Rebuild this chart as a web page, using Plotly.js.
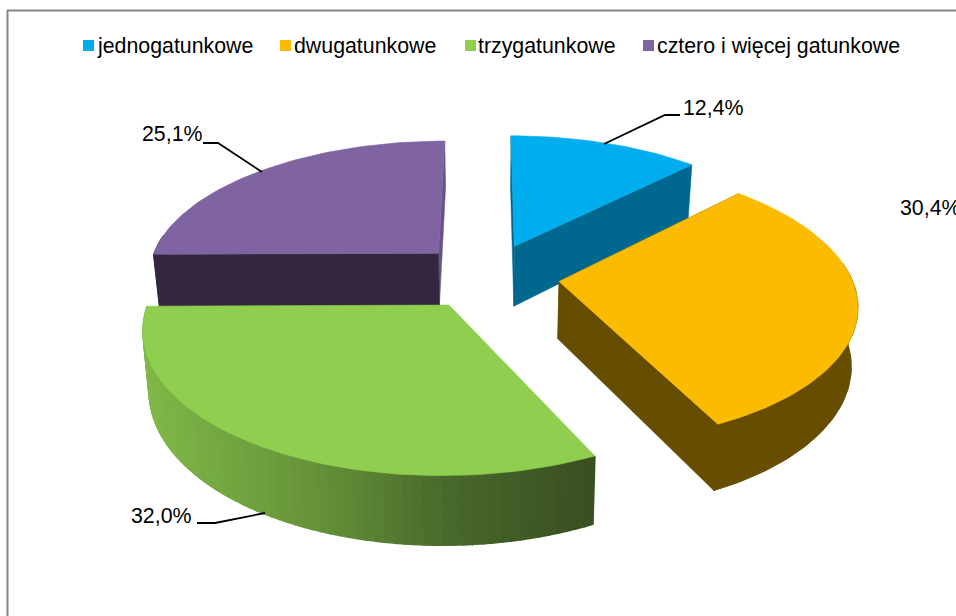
<!DOCTYPE html>
<html><head><meta charset="utf-8">
<script src="https://cdn.plot.ly/plotly-3.0.1.min.js"></script>
<style>html,body{margin:0;padding:0;background:#fff;overflow:hidden}</style>
</head><body><div id="chart" style="width:956px;height:616px"></div>
<script>
const categories = ["jednogatunkowe","dwugatunkowe","trzygatunkowe","cztero i więcej gatunkowe"];
const values = [12.4,30.4,32.0,25.1];
const topColors = ["#00ADEF","#FBBC00","#8FCE4F","#8064A2"];
const wallColors = ["#00688F","#664D00","#5f8a36","#33263F"];
const endWallColors = ["#00688F","#664D00","#5f8a36","#6A5288"];
const wallDepths = [62,57,57,55];
const legendMarkX = [88.5,285.5,470.5,648.5];
const legendTextX = [95.5,293,477,656];
const labelX = [682,899,130,140.5];
const labelY = [108,207.5,516,134];
const leaders = [[[604,665,680],[144,115,115]],[[],[]],[[197,215,265],[523,523,513]],[[203,218,262],[143,143,172]]];

/* projection of the tilted disc */
const cx=488, cy=276, R=292, Rv=135.3, k=0.15, shrink=0.982, pull=0.245;
const project=(u,v,D)=>{const s=1/(1+k*v);
  const x=cx+R*u*s, y=cy-Rv*v*s;
  return D?[cx+(x-cx)*shrink, y+D*s]:[x,y];};
const total=values.reduce((a,b)=>a+b,0);
let acc=0;
const slices=values.map(val=>{const a0=acc/total*2*Math.PI; acc+=val; const a1=acc/total*2*Math.PI;
  const mid=(a0+a1)/2; return {a0,a1,ou:pull*Math.sin(mid),ov:pull*Math.cos(mid)};});
const angles=(sl,mult)=>{const n=Math.max(8,Math.round((sl.a1-sl.a0)*mult));const p=[];
  for(let i=0;i<=n;i++) p.push(sl.a0+(sl.a1-sl.a0)*i/n);
  return p;};
const at=(sl,a,D)=>project(sl.ou+Math.sin(a),sl.ov+Math.cos(a),D);
const poly=(pts,color,width)=>({x:[...pts.map(p=>p[0]),pts[0][0]],y:[...pts.map(p=>p[1]),pts[0][1]],
  mode:width?'lines':'none',fill:'toself',fillcolor:color,line:{color:color,width:width||0},hoverinfo:'skip',showlegend:false,type:'scatter'});
const greenAt=x=>{const stops=[[146,[128,184,72]],[320,[101,145,56]],[450,[72,104,44]],[594,[57,79,32]]];
  for(let i=1;i<stops.length;i++){if(x<=stops[i][0]){const t=Math.max(0,(x-stops[i-1][0])/(stops[i][0]-stops[i-1][0]));
    const c=stops[i-1][1].map((c0,j)=>Math.round(c0+(stops[i][1][j]-c0)*t));return `rgb(${c.join(',')})`;}}
  return 'rgb(57,79,32)';};

const traces=[];
[3,0,1,2].forEach(i=>{const sl=slices[i], D=wallDepths[i];
  const as=angles(sl,i===2?36:40);
  const top=as.map(a=>at(sl,a,0)), bot=as.map(a=>at(sl,a,D));
  const apT=project(sl.ou,sl.ov,0), apB=project(sl.ou,sl.ov,D);
  const last=top.length-1;
  if(i===2){
    for(let j=last-1;j>=0;j--)
      traces.push(poly([top[j],top[j+1],bot[j+1],bot[j]],greenAt((top[j][0]+top[j+1][0])/2),1.5));
  } else {
    /* radial walls first, then the front-facing part of the rim */
    traces.push(poly([apT,top[last],bot[last],apB],endWallColors[i],0.5));
    traces.push(poly([apT,top[0],bot[0],apB],wallColors[i],0.5));
    const front=as.map((a,j)=>j).filter(j=>Math.cos(as[j])<0.15);
    if(front.length>1)
      traces.push(poly([...front.map(j=>top[j]),...front.slice().reverse().map(j=>bot[j])],wallColors[i],1));
  }
  traces.push(poly([apT,...top],topColors[i],0.6));
});
leaders.forEach(l=>{ if(l[0].length) traces.push({x:l[0],y:l[1],mode:'lines',type:'scatter',line:{color:'#000',width:1.8},hoverinfo:'skip',showlegend:false}); });
traces.push({x:legendMarkX,y:legendMarkX.map(()=>45.5),mode:'markers',type:'scatter',text:categories,hoverinfo:'text',showlegend:false,
  marker:{symbol:'square',size:11,color:topColors,line:{width:0}}});

const font={family:'"Liberation Sans",Arial,sans-serif',size:21.33,color:'#000'};
const annotations=[
 ...categories.map((c,i)=>({text:c,x:legendTextX[i],y:45.5,xref:'x',yref:'y',xanchor:'left',yanchor:'middle',showarrow:false,font,borderpad:0})),
 ...values.map((v,i)=>({text:v.toFixed(1).replace('.',',')+'%',x:labelX[i],y:labelY[i],xref:'x',yref:'y',xanchor:'left',yanchor:'middle',showarrow:false,font,borderpad:0}))
];
const line={color:'#868686',width:2};
const layout={width:956,height:616,margin:{l:0,r:0,t:0,b:0},paper_bgcolor:'#fff',plot_bgcolor:'#fff',showlegend:false,
 xaxis:{range:[0,956],visible:false,fixedrange:true},
 yaxis:{range:[616,0],visible:false,fixedrange:true},
 annotations,
 shapes:[{type:'line',xref:'x',yref:'y',x0:7.5,x1:7.5,y0:10,y1:616,line,layer:'below'},
         {type:'line',xref:'x',yref:'y',x0:7,x1:956,y0:10.5,y1:10.5,line,layer:'below'}]};
Plotly.newPlot('chart',traces,layout,{displayModeBar:false});
</script></body></html>
